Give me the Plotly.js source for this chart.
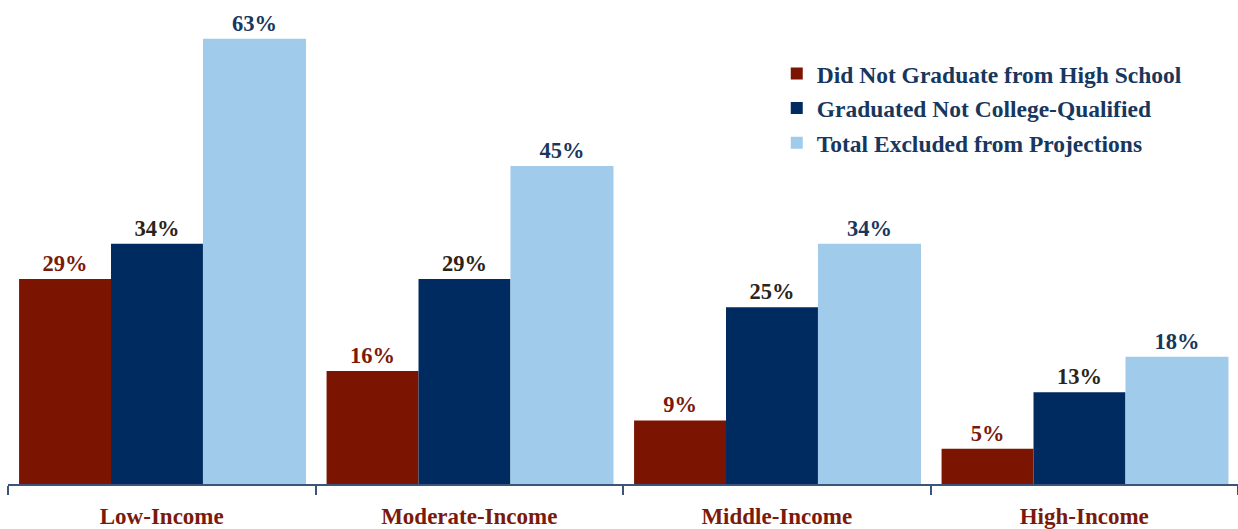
<!DOCTYPE html>
<html><head><meta charset="utf-8">
<script src="https://cdn.plot.ly/plotly-3.0.1.min.js"></script>
<style>html,body{margin:0;padding:0;background:#fff}#chart{width:1238px;height:529px}</style>
</head><body><div id="chart"></div>
<script>
const categories = ["Low-Income", "Moderate-Income", "Middle-Income", "High-Income"];
const seriesNames = ["Did Not Graduate from High School", "Graduated Not College-Qualified", "Total Excluded from Projections"];
const didNotGraduate = [29, 16, 9, 5];
const notCollegeQualified = [34, 29, 25, 13];
const totalExcluded = [63, 45, 34, 18];

const FONT = '"Liberation Serif", "Times New Roman", serif';
const barColors = ["#7b1502", "#002b60", "#a0cbeb"];
const labelColors = ["#7b1a0a", "#2b2418", "#17375e"];
const offsets = [-0.464, -0.165, 0.134];
const widths = [0.299, 0.299, 0.335];
const values = [didNotGraduate, notCollegeQualified, totalExcluded];

const traces = values.map((v, i) => ({
  type: 'bar',
  name: seriesNames[i],
  legendgroup: 'g' + i,
  x: categories,
  y: v,
  offset: offsets[i],
  width: widths[i],
  marker: {color: barColors[i], line: {width: 0}},
  text: v.map(d => d + '%'),
  textposition: 'outside',
  cliponaxis: false,
  textfont: {family: FONT, size: 22.5, color: labelColors[i], weight: 700},
  hoverinfo: 'skip'
}));

const layout = {
  width: 1238, height: 529,
  margin: {l: 8, r: 0, t: 0, b: 45},
  paper_bgcolor: '#fff', plot_bgcolor: '#fff',
  barmode: 'overlay',
  showlegend: true,
  legend: {
    x: 0.625, y: 0.893, xanchor: 'left', yanchor: 'top',
    font: {family: FONT, size: 23.5, color: '#17375e', weight: 700},
    tracegroupgap: 1, itemwidth: 30, bgcolor: 'rgba(0,0,0,0)'
  },
  xaxis: {
    type: 'category', range: [-0.5, 3.5],
    showline: true, linecolor: '#3b5578', linewidth: 2,
    ticks: 'outside', tickson: 'boundaries', ticklen: 9, tickwidth: 2, tickcolor: '#3b5578',
    ticklabelstandoff: 10,
    tickfont: {family: FONT, size: 23, color: '#7b1a0a', weight: 700},
    showgrid: false, zeroline: false, fixedrange: true
  },
  yaxis: {
    range: [0, 68.5], visible: false, showgrid: false, zeroline: false, fixedrange: true
  }
};

Plotly.newPlot('chart', traces, layout, {displayModeBar: false, staticPlot: true});
</script></body></html>
